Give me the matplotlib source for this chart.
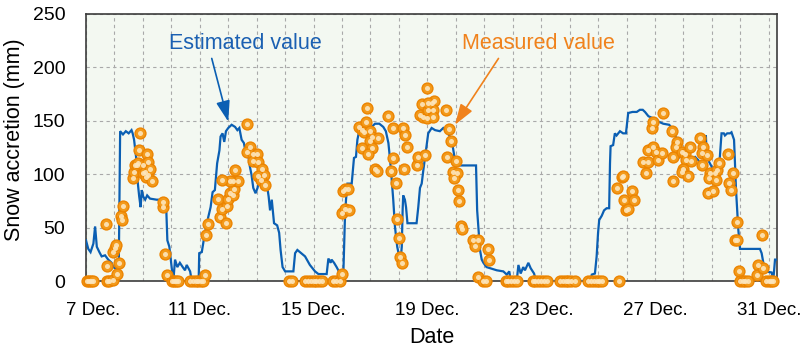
import matplotlib
matplotlib.use("Agg")
import matplotlib.pyplot as plt
import matplotlib.transforms as mtransforms

# ---------------- data ----------------
# days counted from 7 Dec. 00:00
tick_days = [0, 4, 8, 12, 16, 20, 24]
tick_labels = ["7 Dec.", "11 Dec.", "15 Dec.", "19 Dec.", "23 Dec.", "27 Dec.", "31 Dec."]
y_ticks = [0, 50, 100, 150, 200, 250]

est_day = [0.0, 0.08, 0.16, 0.26, 0.32, 0.38, 0.47, 0.55, 0.67, 0.78, 0.9, 0.96, 1.02, 1.1, 1.15,
           1.2, 1.3, 1.4, 1.5, 1.6, 1.64, 1.69, 1.76, 1.8, 1.87, 1.92, 1.96, 2.01, 2.08, 2.15, 2.25,
           2.48, 2.81, 2.86, 2.93, 3.01, 3.07, 3.13, 3.21, 3.3, 3.4, 3.48, 3.54, 3.66, 3.72, 3.96,
           3.98, 4.07, 4.12, 4.18, 4.3, 4.38, 4.45, 4.53, 4.57, 4.61, 4.69, 4.73, 4.8, 4.86, 4.92,
           5.0, 5.12, 5.24, 5.32, 5.39, 5.47, 5.55, 5.62, 5.7, 5.76, 5.82, 5.88, 5.96, 6.03, 6.09,
           6.18, 6.26, 6.37, 6.42, 6.47, 6.53, 6.61, 6.72, 6.79, 6.84, 6.91, 7.0, 7.29, 7.35, 7.43,
           7.52, 7.7, 7.87, 8.05, 8.17, 8.46, 8.52, 8.6, 8.63, 8.72, 8.81, 8.87, 8.93, 9.04, 9.1,
           9.14, 9.19, 9.34, 9.42, 9.49, 9.54, 9.61, 9.69, 9.77, 9.92, 10.04, 10.16, 10.31, 10.45,
           10.54, 10.63, 10.69, 10.74, 10.8, 10.86, 10.94, 11.01, 11.06, 11.1, 11.13, 11.15, 11.21,
           11.25, 11.3, 11.62, 11.68, 11.74, 11.8, 11.86, 11.95, 12.03, 12.15, 12.27, 12.44, 12.56,
           12.68, 12.79, 12.89, 12.97, 13.09, 13.2, 13.71, 13.75, 13.85, 13.91, 13.97, 14.08, 14.2,
           14.44, 14.67, 14.79, 14.88, 14.93, 15.14, 15.2, 15.28, 15.37, 15.43, 15.55, 15.63, 15.75,
           15.82, 17.72, 17.78, 17.89, 17.95, 18.0, 18.04, 18.13, 18.21, 18.3, 18.39, 18.42, 18.44,
           18.53, 18.59, 18.65, 18.77, 18.88, 18.98, 19.06, 19.21, 19.36, 19.47, 19.57, 19.65,
           19.77, 19.94, 20.12, 20.29, 20.5, 20.59, 20.7, 20.78, 20.88, 20.97, 21.05, 21.17, 21.29,
           21.41, 21.52, 21.64, 21.76, 21.79, 21.82, 21.91, 21.99, 22.05, 22.14, 22.26, 22.34,
           22.42, 22.46, 22.54, 22.64, 22.69, 22.78, 22.85, 22.93, 22.99, 23.69, 23.75, 23.81,
           23.87, 24.1, 24.16, 24.22, 24.29]
est_val = [38, 30, 27, 35, 51, 32, 27, 23, 24, 20, 17, 13, 12, 11, 7,
           140, 137, 140, 138, 141, 138, 132, 116, 97, 79, 69, 85, 79, 76, 80, 77,
           76, 76, 38, 32, 13, 0, 20, 13, 17, 13, 10, 15, 9, 0, 0,
           26, 27, 35, 45, 60, 69, 83, 85, 97, 110, 122, 135, 138, 130, 140,
           143, 146, 144, 141, 143, 132, 129, 119, 118, 107, 99, 87, 82, 87, 96,
           99, 93, 88, 79, 66, 76, 54, 52, 45, 29, 13, 9, 9, 26, 29,
           27, 23, 15, 9, 6.5, 6.5, 21, 17, 20, 17, 13, 10, 5, 1, 57,
           76, 91, 91, 115, 116, 132, 141, 139, 143, 140, 144, 147, 147, 144,
           140, 129, 113, 97, 76, 51, 32, 23, 20, 32, 66, 80, 76,
           69, 54, 54, 69, 87, 91, 104, 122, 138, 143, 141, 140, 143,
           140, 135, 126, 113, 108, 108, 108, 66, 29, 20, 17, 13, 12,
           10, 9, 6, 9, 0, 0, 15, 7, 13, 10, 17, 12, 7,
           0, 0, 6, 7, 23, 45, 57, 61, 66, 68, 68, 110, 126,
           127, 138, 136, 140, 138, 138, 157, 158, 158, 160, 160, 158,
           154, 152, 149, 147, 146, 143, 138, 129, 116, 118, 115, 116, 115,
           116, 113, 108, 115, 136, 116, 111, 107, 101, 102, 108, 138,
           138, 136, 138, 138, 139, 132, 85, 48, 30, 30, 26, 17,
           9, 8, 1, 20, 20]

meas_day = [0.05, 0.12, 0.18, 0.25,
            0.69, 0.73, 0.73, 0.82, 0.94, 0.96, 1.01, 1.05, 1.1, 1.17, 1.22, 1.25, 1.29,
            1.66, 1.69, 1.72, 1.78, 1.85, 1.9, 1.84, 1.99, 2.01, 2.07, 2.11, 2.15, 2.17, 2.19, 2.25, 2.31,
            2.7, 2.72, 2.77, 2.84,
            3.02, 3.1, 3.17, 3.23, 3.66, 3.75, 3.85, 3.95, 4.05, 4.11,
            4.18, 4.21, 4.3, 4.71, 4.92, 4.65, 4.79, 4.94, 5.0, 5.06, 5.17, 5.2, 5.17, 5.33, 5.06, 4.78, 5.24,
            5.67, 5.76, 5.67, 5.86, 6.0, 5.88, 6.06, 6.18, 6.24, 6.06, 6.14, 6.29,
            7.15, 7.25, 7.7, 7.8, 7.9, 8.0, 8.1, 8.2, 8.3, 8.7, 8.8, 8.93,
            8.99, 9.03, 9.1, 9.22, 9.0, 9.1, 9.26,
            9.6, 9.69, 9.84, 9.89, 9.77, 9.98, 10.04, 10.0, 9.69, 10.04, 9.92, 10.27, 10.16, 10.22,
            10.63, 10.78, 10.71, 10.8, 10.9, 10.92, 11.01, 11.04, 11.1, 11.15, 11.21, 11.27, 11.19,
            11.62, 11.68, 11.92, 11.97, 11.8, 11.74, 11.86, 11.97, 12.03, 12.15, 12.23, 12.21, 12.19,
            12.03, 12.65, 12.77, 12.82, 12.68, 13.0, 12.89, 13.05, 12.94, 13.09, 13.12, 13.17, 13.21,
            13.61, 13.79, 13.67, 14.14, 14.18, 13.79,
            13.95, 14.05, 14.75, 14.85, 14.95, 15.05, 15.15, 15.7, 15.8, 15.9, 16.0, 16.1, 16.2,
            16.66, 16.76, 16.86, 16.96, 17.06, 17.19, 17.65, 17.75, 17.85, 17.95, 18.05, 18.14, 18.74,
            18.65, 18.83, 18.89, 18.92, 18.98, 19.06, 19.18, 19.26, 19.68, 19.59, 19.76, 19.76, 19.94,
            20.05, 20.11, 20.23, 19.88, 19.94, 20.27, 20.59, 20.76, 20.74, 20.64, 20.62, 20.94, 21.05,
            21.23, 21.09, 21.25, 20.98, 20.94, 21.17, 21.58, 21.7, 21.64, 21.82, 21.64, 21.93, 21.91,
            22.11, 22.17, 22.26, 22.14, 21.88, 22.03, 22.58, 22.76, 22.61, 22.66, 22.87, 22.81, 22.9,
            22.96, 23.75, 23.63, 23.6, 23.79,
            22.98, 23.08, 23.18, 23.27, 23.9, 24.0, 24.08, 24.15]
meas_val = [0, 0, 0, 0,
            53, 14, 0, 0, 1, 27, 31, 34, 7, 17, 61, 57, 70,
            96, 102, 108, 108, 122, 138, 110, 101, 108, 102, 97, 119, 111, 99, 105, 93,
            69, 74, 25, 6,
            0, 0, 0, 0, 0, 0, 0, 0, 0, 0,
            6, 43, 53, 60, 54, 77, 67, 70, 77, 82, 80, 86, 93, 93, 93, 94, 104,
            147, 125, 121, 119, 119, 112, 111, 105, 99, 98, 94, 90,
            0, 0, 0, 0, 0, 0, 0, 0, 0, 0, 0, 0,
            7, 84, 86, 86, 64, 67, 66,
            144, 141, 149, 162, 139, 140, 135, 131, 124, 124, 119, 134, 105, 103,
            154, 143, 103, 115, 92, 58, 40, 22, 17, 143, 136, 125, 105,
            108, 116, 118, 180, 165, 155, 153, 152, 160, 166, 168, 160, 153,
            166, 160, 142, 131, 116, 112, 102, 101, 96, 85, 75, 51, 49,
            38, 38, 33, 30, 20, 4,
            0, 0, 0, 0, 0, 0, 0, 0, 0, 0, 0, 0, 0,
            0, 0, 0, 0, 0, 0, 0, 0, 0, 0, 0, 0, 0,
            87, 97, 98, 76, 66, 67, 84, 76, 101, 111, 111, 122, 125,
            121, 113, 120, 143, 149, 157, 140, 130, 125, 116, 93, 121, 119,
            125, 113, 112, 105, 102, 98, 134, 125, 120, 118, 108, 101, 96,
            101, 104, 110, 94, 82, 84, 119, 101, 92, 85, 55, 38, 38,
            9, 43, 15, 6, 12,
            0, 0, 0, 0, 0, 0, 0, 0]

# ---------------- style ----------------
BLUE = "#0b5fb3"
ORANGE = "#f39a1b"
ORANGE_EDGE = "#ec8400"
TXT_BLUE = "#1b60b2"
TXT_ORANGE = "#f0821c"
FONT = ["Liberation Sans", "DejaVu Sans"]

fig = plt.figure(figsize=(8.0, 3.61), dpi=100)
ax = fig.add_axes([0.1075, 0.2216, 0.86375, 0.741])
ax.set_facecolor("#f3f8f1")

ax.plot(est_day, est_val, color=BLUE, lw=1.6, zorder=3, solid_joinstyle="miter")
ax.plot(meas_day, meas_val, "o", ms=7.8, mfc=ORANGE, mec=ORANGE_EDGE, mew=1.0,
        clip_on=False, zorder=4)
ax.plot(meas_day, meas_val, "o", ms=3.6, mfc="#fde6bd", mec="none", alpha=0.9,
        clip_on=False, zorder=5)

ax.set_xlim(0, 24.29)
ax.set_ylim(0, 250)
ax.set_xticks(range(1, 25), minor=True)
ax.set_xticks(tick_days)
ax.set_xticklabels(tick_labels, family=FONT, fontsize=13.5)
ax.set_yticks(y_ticks)
ax.set_yticklabels([str(v) for v in y_ticks], family=FONT, fontsize=14)
ax.tick_params(axis="both", which="both", length=0)
ax.tick_params(axis="x", pad=15)
ax.tick_params(axis="y", pad=15)

ax.grid(True, which="both", axis="x", color="#a9a9a9", lw=0.8, ls=(0, (3, 3)))
ax.grid(True, which="major", axis="y", color="#a9a9a9", lw=0.8, ls=(0, (3, 3)))
ax.set_axisbelow(True)

for s in ax.spines.values():
    s.set_color("#3c3c3c")
    s.set_linewidth(1.2)

# shift first tick label slightly right as in reference
lbl0 = ax.get_xticklabels()[0]
lbl0.set_transform(lbl0.get_transform() + mtransforms.ScaledTranslation(7 / 100, 0, fig.dpi_scale_trans))

ax.set_xlabel("Date", family=FONT, fontsize=15.5, labelpad=6)
ax.set_ylabel("Snow accretion (mm)", family=FONT, fontsize=15.5)
ax.yaxis.set_label_coords(-0.088, 0.527)

ax.text(5.59, 222, "Estimated value", color=TXT_BLUE, family=FONT, fontsize=15.5,
        ha="center", va="center", zorder=6)
ax.annotate("", xy=(5.0, 149), xytext=(4.42, 208),
            arrowprops=dict(arrowstyle="-|>,head_length=0.9,head_width=0.3", color=BLUE,
                            lw=1.2, mutation_scale=14, shrinkA=0, shrinkB=0), zorder=6)
ax.text(15.89, 222, "Measured value", color=TXT_ORANGE, family=FONT, fontsize=15.5,
        ha="center", va="center", zorder=6)
ax.annotate("", xy=(12.97, 146), xytext=(14.5, 208),
            arrowprops=dict(arrowstyle="-|>,head_length=0.9,head_width=0.3", color=TXT_ORANGE,
                            lw=1.2, mutation_scale=14, shrinkA=0, shrinkB=0), zorder=6)

fig.savefig("out.png", dpi=100)
